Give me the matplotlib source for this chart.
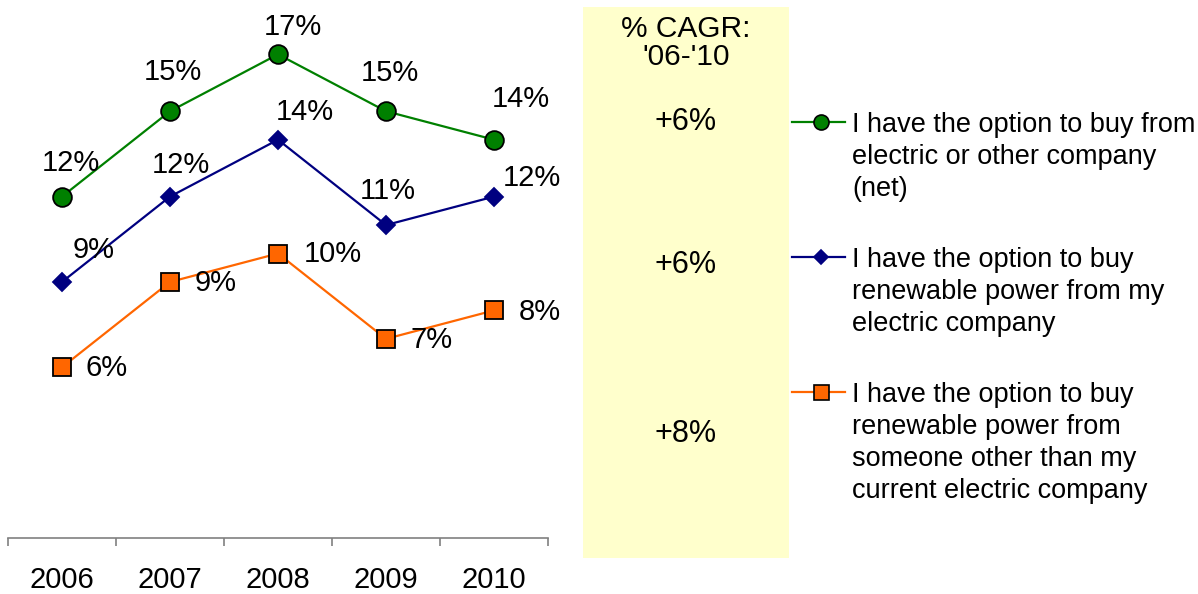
import matplotlib
matplotlib.use('Agg')
import matplotlib.pyplot as plt
from matplotlib.lines import Line2D
from matplotlib.patches import Rectangle

plt.rcParams['font.family'] = ['Liberation Sans', 'DejaVu Sans']

# data
years = ['2006', '2007', '2008', '2009', '2010']
option_any = [12, 15, 17, 15, 14]
renew_own = [9, 12, 14, 11, 12]
renew_other = [6, 9, 10, 7, 8]
cagr_labels = ['+6%', '+6%', '+8%']
series_names = [
    'I have the option to buy from\nelectric or other company\n(net)',
    'I have the option to buy\nrenewable power from my\nelectric company',
    'I have the option to buy\nrenewable power from\nsomeone other than my\ncurrent electric company',
]

# label offsets in pixels (dx right, dy up) for each point
off_any = [(9, 34), (3, 39), (15, 27), (4, 38), (27, 41)]
off_own = [(32, 32), (11, 32), (27, 28), (2, 34), (38, 19)]
off_other = [(45, -1), (46, -1), (55, 0), (46, -1), (46, -2)]

W, H = 1198, 594
fig = plt.figure(figsize=(W / 100, H / 100), dpi=100)


def fx(x):
    return x / W


def fy(y):
    return 1 - y / H


# yellow CAGR panel
fig.patches.append(Rectangle((fx(583), fy(558)), fx(789) - fx(583), fy(7) - fy(558),
                             transform=fig.transFigure, facecolor='#FFFFCC',
                             edgecolor='none', zorder=0))

px_per_unit = 28.45
ax = fig.add_axes([fx(8), fy(538), fx(548) - fx(8), fy(8) - fy(538)])
ax.set_xlim(-0.5, 4.5)
ax.set_ylim(0, 530 / px_per_unit)
ax.patch.set_visible(False)
for s in ['top', 'right', 'left']:
    ax.spines[s].set_visible(False)
ax.spines['bottom'].set_color('#808080')
ax.spines['bottom'].set_linewidth(1.2)
ax.set_yticks([])

xs = list(range(len(years)))
ax.set_xticks([i - 0.5 for i in range(len(years) + 1)])
ax.set_xticklabels([])
ax.tick_params(axis='x', which='major', direction='out', length=6, width=1.2, color='#808080')
ax.set_xticks(xs, minor=True)
ax.set_xticklabels(years, minor=True, fontsize=21)
ax.tick_params(axis='x', which='minor', length=0, pad=20)

series = [
    (option_any, off_any, 'o', '#008000', 'black', 13.5),
    (renew_own, off_own, 'D', '#000080', '#000080', 9),
    (renew_other, off_other, 's', '#FF6600', 'black', 13.5),
]

for vals, offs, mk, col, edge, ms in series:
    ax.plot(xs, vals, color=col, lw=1.6, marker=mk, ms=ms, mfc=col, mec=edge,
            mew=1.3, clip_on=False, zorder=3)
    for x, v, (dx, dy) in zip(xs, vals, offs):
        ax.annotate(f'{v}%', (x, v), xytext=(dx, dy), textcoords='offset pixels',
                    ha='center', va='center', fontsize=21)

# CAGR column
fig.text(fx(686), fy(29), '% CAGR:', ha='center', va='center', fontsize=21.5)
fig.text(fx(686), fy(57), "'06-'10", ha='center', va='center', fontsize=21.5)
for lab, y in zip(cagr_labels, [122, 265, 434]):
    fig.text(fx(686), fy(y), lab, ha='center', va='center', fontsize=22)

# legend drawn by hand
leg_y = [122, 257, 392]
for (vals, offs, mk, col, edge, ms), name, yl in zip(series, series_names, leg_y):
    fig.add_artist(Line2D([fx(792), fx(845)], [fy(yl), fy(yl)], transform=fig.transFigure,
                          color=col, lw=1.6))
    fig.add_artist(Line2D([fx(821)], [fy(yl)], transform=fig.transFigure, marker=mk,
                          ms=ms * 0.8, mfc=col, mec=edge, mew=1.2, linestyle='none'))
    for j, line in enumerate(name.split('\n')):
        fig.text(fx(852), fy(yl + 10 + 32 * j), line, va='baseline', ha='left', fontsize=19.5)

fig.savefig('out.png', dpi=100)
